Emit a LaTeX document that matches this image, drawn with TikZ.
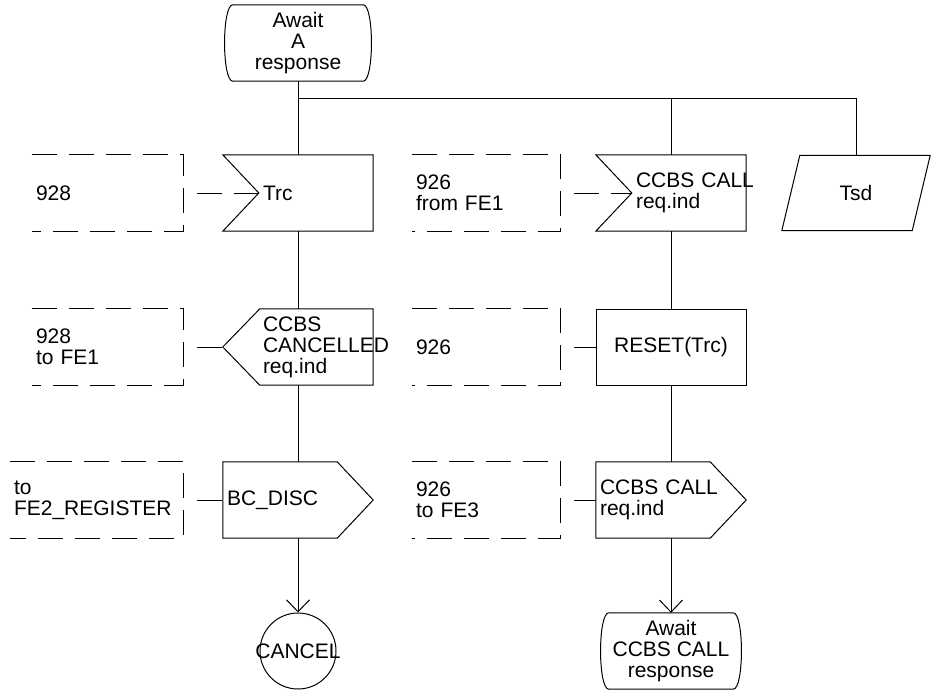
\documentclass[tikz,border=0pt]{standalone}
\usepackage{fontspec}
\setmainfont{Liberation Sans}
\usetikzlibrary{arrows.meta}
\newcommand{\sdlfont}{\fontsize{21pt}{21pt}\selectfont}
\tikzset{
  >={Straight Barb[length=12pt,width=23pt]},
  line/.style={draw=black, line width=1pt},
  flow/.style={line},
  cdash/.style={line, dash pattern=on 25pt off 12pt},
  state/.style={rectangle, minimum width=150pt, minimum height=76pt, inner sep=2pt,
              align=center, font=\sdlfont},
  sym/.style={rectangle, minimum width=150pt, minimum height=76pt, inner ysep=2pt,
              inner xsep=4pt, text width=142pt, align=left, font=\sdlfont},
  insym/.style={sym, execute at begin node={\leftskip=36pt}},
  outsym/.style={sym},
  task/.style={sym, draw=black, line width=1pt, align=center},
  cmt/.style={rectangle, minimum height=76pt, inner xsep=4pt, align=left, font=\sdlfont},
  connect/.style={circle, draw=black, line width=1pt, minimum size=76pt, inner sep=0pt, font=\sdlfont},
}
\begin{document}
\begin{tikzpicture}[x=1pt,y=-1pt]
  \useasboundingbox (0,0) rectangle (936,696);
  % states
  \node[state] (await) at (298,43) {Await\\A\\response};
  \coordinate (fork) at (298,98);
  % left branch
  \node[insym] (trc) at (298,193) {Trc};
  \node[insym] (cnl) at (298,347) {CCBS\\CANCELLED\\req.ind};
  \node[outsym] (disc) at (298,500) {BC\_DISC};
  \node[connect] (cancel) at (298,651) {\makebox[0pt]{CANCEL}};
  \node[cmt, text width=143pt] (c928) at (107.5,193) {928};
  \node[cmt, text width=143pt] (c928fe) at (107.5,347) {928\\to FE1};
  \node[cmt, text width=165pt] (creg) at (96.5,500) {to\\FE2\_REGISTER};
  % right branch
  \node[insym] (req) at (671,193) {CCBS~CALL\\req.ind};
  \node[task] (reset) at (671,347) {RESET(Trc)};
  \node[outsym] (call) at (671,500) {CCBS CALL\\req.ind};
  \node[state, minimum width=144pt] (awaitcall) at (671,651) {Await\\CCBS CALL\\response};
  \node[cmt, text width=140pt] (c926fe) at (486,193) {926\\from FE1};
  \node[cmt, text width=140pt] (c926) at (486,347) {926};
  \node[cmt, text width=140pt] (c926to) at (486,500) {926\\to FE3};
  % timer
  \node[sym, minimum width=130pt, text width=122pt, minimum height=75pt, align=center] (tsd) at (856,193) {Tsd};

  % symbol outlines
  \foreach \n in {await,awaitcall}
    \draw[line] ([xshift=10pt]\n.north west) -- ([xshift=-10pt]\n.north east)
      .. controls ([xshift=1pt]\n.north east) and ([xshift=1pt]\n.south east) .. ([xshift=-10pt]\n.south east)
      -- ([xshift=10pt]\n.south west)
      .. controls ([xshift=-1pt]\n.south west) and ([xshift=-1pt]\n.north west) .. cycle;
  \foreach \n in {trc,req}
    \draw[line] (\n.north west) -- (\n.north east) -- (\n.south east) -- (\n.south west)
      -- ([xshift=36pt]\n.west) -- cycle;
  \draw[line] ([xshift=37pt]cnl.north west) -- (cnl.north east) -- (cnl.south east)
    -- ([xshift=37pt]cnl.south west) -- (cnl.west) -- cycle;
  \foreach \n in {disc,call}
    \draw[line] (\n.north west) -- ([xshift=-36pt]\n.north east) -- (\n.east)
      -- ([xshift=-36pt]\n.south east) -- (\n.south west) -- cycle;
  \draw[line] ([xshift=9pt]tsd.north west) -- ([xshift=9pt]tsd.north east)
    -- ([xshift=-9pt]tsd.south east) -- ([xshift=-9pt]tsd.south west) -- cycle;
  \foreach \n in {c928,c928fe,creg,c926fe,c926,c926to}
    \draw[cdash] (\n.north west) -- (\n.north east) -- (\n.south east) -- (\n.south west);

  % flow lines
  \draw[flow] (await) -- (trc);
  \draw[flow] (fork) -| (tsd.north);
  \draw[flow] (fork -| req.north) -- (req);
  \draw[flow] (trc) -- (cnl);
  \draw[flow] (cnl) -- (disc);
  \draw[flow,->] (disc) -- (cancel);
  \draw[flow] (req) -- (reset);
  \draw[flow] (reset) -- (call);
  \draw[flow,->] (call) -- (awaitcall);

  % comment connectors
  \draw[cdash, shorten <=14pt] (c928.east) -- ([xshift=36pt]trc.west);
  \draw[cdash, shorten <=14pt] (c928fe.east) -- (cnl.west);
  \draw[cdash, shorten <=14pt] (creg.east) -- (disc.west);
  \draw[cdash, shorten <=14pt] (c926fe.east) -- ([xshift=36pt]req.west);
  \draw[cdash, shorten <=14pt] (c926.east) -- (reset.west);
  \draw[cdash, shorten <=14pt] (c926to.east) -- (call.west);
\end{tikzpicture}
\end{document}
